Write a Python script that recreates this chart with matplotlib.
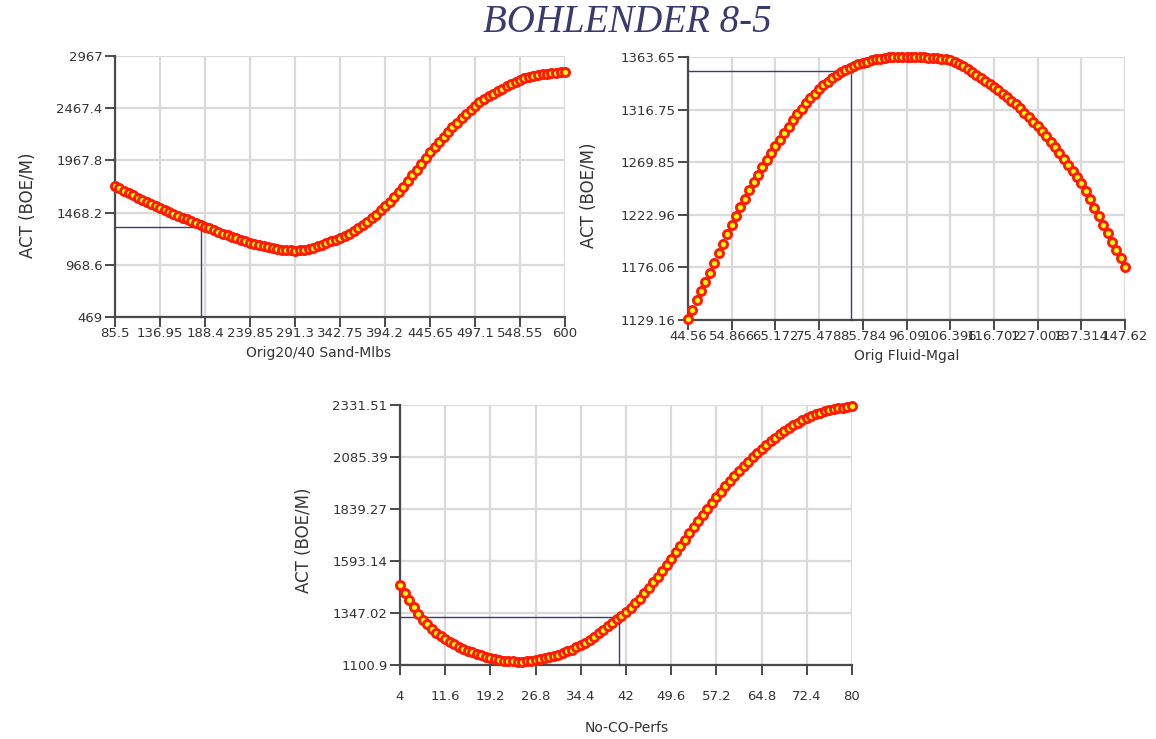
import numpy as np
import matplotlib
matplotlib.use("Agg")
import matplotlib.pyplot as plt

# ---------------- data ----------------
title = "BOHLENDER 8-5"
ylabel = "ACT (BOE/M)"

# Panel 1: Orig20/40 Sand-Mlbs
p1_xlabel = "Orig20/40 Sand-Mlbs"
p1_xrange = (85.5, 600.0)
p1_xticks = [85.5, 136.95, 188.4, 239.85, 291.3, 342.75, 394.2, 445.65, 497.1, 548.55, 600]
p1_xticklabels = ["85.5", "136.95", "188.4", "239.85", "291.3", "342.75", "394.2", "445.65", "497.1", "548.55", "600"]
p1_yticks = [469, 968.6, 1468.2, 1967.8, 2467.4, 2967]
p1_yticklabels = ["469", "968.6", "1468.2", "1967.8", "2467.4", "2967"]
p1_y = [1723, 1700, 1678, 1655, 1633, 1611,
        1592, 1573, 1554, 1535, 1516,
        1497, 1478, 1458, 1439, 1420,
        1403, 1386, 1369, 1352, 1335,
        1318, 1302, 1285, 1268, 1252,
        1237, 1222, 1207, 1193, 1180,
        1168, 1157, 1146, 1136, 1128,
        1121, 1115, 1110, 1107, 1105,
        1106, 1111, 1119, 1131, 1145,
        1160, 1176, 1192, 1208, 1225,
        1245, 1267, 1291, 1319, 1350,
        1382, 1414, 1450, 1489, 1530,
        1574, 1620, 1668, 1718, 1770,
        1825, 1880, 1935, 1990, 2045,
        2096, 2146, 2195, 2242, 2285,
        2327, 2369, 2411, 2451, 2490,
        2522, 2552, 2580, 2607, 2632,
        2655, 2678, 2700, 2721, 2740,
        2754, 2766, 2776, 2785, 2792,
        2798, 2803, 2808, 2813, 2817]
p1_cross = (183.3, 1331)

# Panel 2: Orig Fluid-Mgal
p2_xlabel = "Orig Fluid-Mgal"
p2_xrange = (44.56, 147.62)
p2_xticks = [44.56, 54.866, 65.172, 75.478, 85.784, 96.09, 106.396, 116.702, 127.008, 137.314, 147.62]
p2_xticklabels = ["44.56", "54.866", "65.172", "75.478", "85.784", "96.09", "106.396", "116.702", "127.008", "137.314", "147.62"]
p2_yticks = [1129.16, 1176.06, 1222.96, 1269.85, 1316.75, 1363.65]
p2_yticklabels = ["1129.16", "1176.06", "1222.96", "1269.85", "1316.75", "1363.65"]
p2_y = [1130, 1138.5, 1147, 1155.3, 1163.3, 1171,
        1179.8, 1188.5, 1197.2, 1205.7, 1214,
        1221.9, 1229.7, 1237.4, 1244.8, 1252,
        1258.8, 1265.4, 1271.8, 1278, 1284,
        1289.9, 1295.7, 1301.5, 1307.1, 1312.7,
        1317.6, 1322.3, 1326.8, 1331, 1335,
        1338.5, 1341.7, 1344.6, 1347.4, 1350,
        1352, 1353.9, 1355.6, 1357.1, 1358.5,
        1359.6, 1360.6, 1361.5, 1362.3, 1363,
        1363.3, 1363.5, 1363.6, 1363.65, 1363.65,
        1363.6, 1363.5, 1363.4, 1363.3, 1363.2,
        1362.9, 1362.5, 1362.1, 1361.6, 1361,
        1359.6, 1357.8, 1355.6, 1353.2, 1350.5,
        1347.9, 1345.2, 1342.5, 1339.8, 1337,
        1334, 1331, 1328, 1324.8, 1321.5,
        1317.8, 1314, 1310.1, 1306.1, 1302,
        1297.5, 1292.8, 1288, 1283.1, 1278,
        1272.8, 1267.5, 1262.1, 1256.6, 1251,
        1244, 1236.8, 1229.4, 1221.8, 1214,
        1206.5, 1199, 1191.5, 1184, 1176.5]
p2_cross = (83.07, 1351.1)

# Panel 3: No-CO-Perfs
p3_xlabel = "No-CO-Perfs"
p3_xrange = (4.0, 80.0)
p3_xticks = [4, 11.6, 19.2, 26.8, 34.4, 42, 49.6, 57.2, 64.8, 72.4, 80]
p3_xticklabels = ["4", "11.6", "19.2", "26.8", "34.4", "42", "49.6", "57.2", "64.8", "72.4", "80"]
p3_yticks = [1100.9, 1347.02, 1593.14, 1839.27, 2085.39, 2331.51]
p3_yticklabels = ["1100.9", "1347.02", "1593.14", "1839.27", "2085.39", "2331.51"]
p3_y = [1480, 1444, 1409, 1376, 1344, 1315,
        1293, 1272, 1253, 1237, 1222,
        1210, 1198, 1188, 1178, 1169,
        1161, 1153, 1146, 1140, 1134,
        1129, 1125, 1122, 1120, 1118,
        1117, 1117, 1118, 1120, 1123,
        1127, 1132, 1137, 1143, 1150,
        1157, 1165, 1174, 1184, 1194,
        1206, 1220, 1235, 1251, 1268,
        1284, 1300, 1317, 1334, 1351,
        1372, 1393, 1415, 1440, 1465,
        1492, 1519, 1547, 1575, 1604,
        1634, 1664, 1694, 1725, 1755,
        1783, 1811, 1839, 1867, 1895,
        1921, 1946, 1971, 1996, 2021,
        2043, 2064, 2085, 2105, 2124,
        2142, 2160, 2177, 2193, 2209,
        2222, 2235, 2248, 2260, 2271,
        2279, 2287, 2294, 2301, 2307,
        2311, 2315, 2319, 2324, 2328]
p3_cross = (40.87, 1329.1)

# ---------------- style ----------------
plt.rcParams['font.family'] = ['DejaVu Sans']
GRID = "#dadada"
SPINE = "#4a4a4a"
CROSS = "#3c3c78"
TXT = "#333333"

fig = plt.figure(figsize=(11.56, 7.39), dpi=100)
fig.patch.set_facecolor("white")

def panel(rect, xr, xt, xtl, yt, ytl, y, cross, xlabel, xpad, xlab_pos, ylab_pos):
    ax = fig.add_axes(rect)
    x = np.linspace(xr[0], xr[1], len(y))
    ax.set_xlim(xr)
    ax.set_ylim(yt[0], yt[-1])
    ax.set_xticks(xt)
    ax.set_xticklabels(xtl)
    ax.set_yticks(yt)
    ax.set_yticklabels(ytl)
    ax.grid(True, color=GRID, lw=1.6, zorder=0)
    ax.set_axisbelow(True)
    for s in ("top", "right"):
        ax.spines[s].set_visible(False)
    for s in ("left", "bottom"):
        ax.spines[s].set_color(SPINE)
        ax.spines[s].set_linewidth(1.6)
        ax.spines[s].set_zorder(1)
    ax.tick_params(axis="both", direction="out", length=7, width=1.4,
                   color=SPINE, labelsize=9.5, labelcolor=TXT, pad=2)
    ax.tick_params(axis="x", pad=xpad)
    cx, cy = cross
    ax.plot([xr[0], cx], [cy, cy], color=CROSS, lw=1.0, zorder=2, clip_on=False)
    ax.plot([cx, cx], [yt[0], cy], color=CROSS, lw=1.0, zorder=2, clip_on=False)
    ax.plot(x, y, linestyle="none", marker="o", markersize=5.8,
            markerfacecolor="#ffff00", markeredgecolor="#ff1a00",
            markeredgewidth=2.1, zorder=3, clip_on=False)
    ax.set_xlabel(xlabel, fontsize=10, color=TXT)
    ax.xaxis.set_label_coords(*xlab_pos)
    ax.set_ylabel(ylabel, fontsize=12, color=TXT)
    ax.yaxis.set_label_coords(*ylab_pos)
    return ax

panel([115/1156, 1-317/739, 450/1156, 261/739], p1_xrange, p1_xticks, p1_xticklabels,
      p1_yticks, p1_yticklabels, p1_y, p1_cross, p1_xlabel, 0,
      (0.452, -0.111), (-0.173, 0.43))
panel([688/1156, 1-320/739, 437/1156, 263/739], p2_xrange, p2_xticks, p2_xticklabels,
      p2_yticks, p2_yticklabels, p2_y, p2_cross, p2_xlabel, 0,
      (0.501, -0.110), (-0.206, 0.475))
panel([400/1156, 1-665/739, 452/1156, 260/739], p3_xrange, p3_xticks, p3_xticklabels,
      p3_yticks, p3_yticklabels, p3_y, p3_cross, p3_xlabel, 11,
      (0.502, -0.215), (-0.192, 0.48))

fig.text(627/1156, 1-23/739, title, ha="center", va="center",
         fontsize=28, fontstyle="italic", family="Liberation Serif", color="#3a3a6e")

fig.savefig("out.png", dpi=100, facecolor="white")
